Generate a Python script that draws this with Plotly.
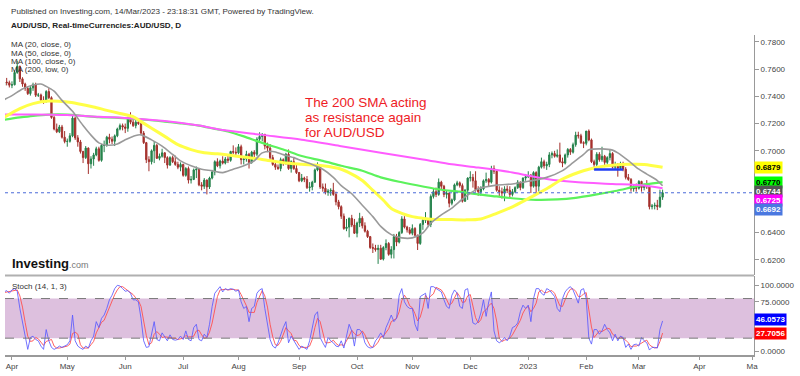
import pandas as pd
import plotly.graph_objects as go

FONT = "Liberation Sans, Arial, sans-serif"

# ---------------- data ----------------
dates = pd.bdate_range("2022-03-29", "2023-03-14")

opens = [
    0.7480, 0.7505, 0.7500,
    0.7482, 0.7485, 0.7575, 0.7620, 0.7528, 0.7490, 0.7458, 0.7420, 0.7462, 0.7485, 0.7408, 0.7410, 0.7372, 0.7360, 0.7435, 0.7390, 0.7245, 0.7160, 0.7140, 0.7175, 0.7100,
    0.7068, 0.7070, 0.7110, 0.7240, 0.7095, 0.7065, 0.6995, 0.6950, 0.7020, 0.6905, 0.6940, 0.6970, 0.7015, 0.6930, 0.7040, 0.7040, 0.7100, 0.7085, 0.7070, 0.7110, 0.7160, 0.7185,
    0.7175, 0.7165, 0.7240, 0.7210, 0.7185, 0.7210, 0.7200, 0.7130, 0.7060, 0.6935, 0.6920, 0.7000, 0.7040, 0.6945, 0.6960, 0.6985, 0.6950, 0.6895, 0.6950, 0.6920, 0.6900, 0.6880,
    0.6900, 0.6820, 0.6870, 0.6785, 0.6790, 0.6860, 0.6865, 0.6750, 0.6740, 0.6785, 0.6735, 0.6800, 0.6845, 0.6920, 0.6890, 0.6925, 0.6910, 0.6940, 0.6930, 0.6995, 0.6990,
    0.6985, 0.7030, 0.6935, 0.6940, 0.6975, 0.6915, 0.6990, 0.6975, 0.7085, 0.7105, 0.7120, 0.7035, 0.7020, 0.6950, 0.6900, 0.6880, 0.6870, 0.6935, 0.6905, 0.6975, 0.6870, 0.6920, 0.6870,
    0.6840, 0.6780, 0.6800, 0.6790, 0.6730, 0.6735, 0.6770, 0.6860, 0.6890, 0.6735, 0.6725, 0.6695, 0.6705, 0.6710, 0.6680, 0.6625, 0.6590, 0.6520, 0.6430, 0.6440, 0.6505, 0.6455,
    0.6395, 0.6470, 0.6505, 0.6450, 0.6410, 0.6370, 0.6290, 0.6285, 0.6275, 0.6285, 0.6205, 0.6290, 0.6320, 0.6240, 0.6275, 0.6370, 0.6330, 0.6400, 0.6500, 0.6440, 0.6420,
    0.6395, 0.6430, 0.6380, 0.6320, 0.6460, 0.6490, 0.6490, 0.6460, 0.6665, 0.6700, 0.6680, 0.6770, 0.6740, 0.6680, 0.6690, 0.6615, 0.6640, 0.6750, 0.6765, 0.6745, 0.6630, 0.6710,
    0.6800, 0.6805, 0.6780, 0.6715, 0.6700, 0.6720, 0.6780, 0.6790, 0.6770, 0.6870, 0.6850, 0.6710, 0.6700, 0.6690, 0.6720, 0.6710, 0.6680, 0.6700, 0.6730, 0.6770, 0.6730, 0.6800,
    0.6810, 0.6820, 0.6740, 0.6840, 0.6740, 0.6880, 0.6920, 0.6890, 0.6900, 0.6970, 0.6980, 0.6960, 0.6970, 0.6920, 0.6910, 0.6970, 0.7010, 0.6990, 0.7045, 0.7115, 0.7110, 0.7060,
    0.7055, 0.7145, 0.7080, 0.6920, 0.6900, 0.6975, 0.6935, 0.6960, 0.6915, 0.6950, 0.6980, 0.6880, 0.6885, 0.6875, 0.6905, 0.6865, 0.6805, 0.6790, 0.6720, 0.6730,
    0.6725, 0.6775, 0.6730, 0.6750, 0.6735, 0.6590, 0.6595, 0.6600, 0.6590, 0.6660,
]
highs = [
    0.7540, 0.7535, 0.7515,
    0.7510, 0.7590, 0.7661, 0.7625, 0.7540, 0.7500, 0.7470, 0.7475, 0.7500, 0.7500, 0.7425, 0.7420, 0.7400, 0.7445, 0.7460, 0.7400, 0.7255, 0.7200, 0.7190, 0.7190, 0.7145,
    0.7090, 0.7130, 0.7266, 0.7250, 0.7115, 0.7080, 0.7000, 0.7035, 0.7025, 0.6960, 0.6985, 0.7030, 0.7030, 0.7050, 0.7075, 0.7110, 0.7125, 0.7105, 0.7120, 0.7170, 0.7200, 0.7200,
    0.7200, 0.7250, 0.7283, 0.7250, 0.7225, 0.7240, 0.7220, 0.7145, 0.7065, 0.6960, 0.7010, 0.7070, 0.7050, 0.6980, 0.7015, 0.6990, 0.6960, 0.6960, 0.6965, 0.6965, 0.6920, 0.6915,
    0.6905, 0.6880, 0.6885, 0.6815, 0.6870, 0.6885, 0.6870, 0.6770, 0.6800, 0.6790, 0.6810, 0.6860, 0.6930, 0.6945, 0.6935, 0.6960, 0.6955, 0.6975, 0.7000, 0.7040, 0.7025,
    0.7050, 0.7045, 0.6960, 0.7000, 0.6985, 0.7000, 0.7005, 0.7100, 0.7136, 0.7130, 0.7125, 0.7060, 0.7050, 0.6970, 0.6915, 0.6900, 0.6950, 0.6945, 0.6985, 0.7010, 0.6930, 0.6955, 0.6900,
    0.6845, 0.6830, 0.6810, 0.6815, 0.6770, 0.6780, 0.6870, 0.6915, 0.6900, 0.6760, 0.6760, 0.6720, 0.6725, 0.6765, 0.6700, 0.6640, 0.6600, 0.6540, 0.6500, 0.6510, 0.6530, 0.6500,
    0.6480, 0.6545, 0.6520, 0.6475, 0.6420, 0.6375, 0.6320, 0.6310, 0.6310, 0.6310, 0.6300, 0.6350, 0.6330, 0.6300, 0.6390, 0.6390, 0.6410, 0.6520, 0.6520, 0.6450, 0.6440,
    0.6460, 0.6440, 0.6385, 0.6470, 0.6500, 0.6550, 0.6500, 0.6680, 0.6720, 0.6730, 0.6797, 0.6780, 0.6750, 0.6710, 0.6695, 0.6650, 0.6760, 0.6780, 0.6775, 0.6760, 0.6720, 0.6805,
    0.6850, 0.6830, 0.6850, 0.6740, 0.6740, 0.6790, 0.6840, 0.6800, 0.6890, 0.6893, 0.6855, 0.6740, 0.6730, 0.6740, 0.6745, 0.6740, 0.6720, 0.6740, 0.6785, 0.6775, 0.6805, 0.6830,
    0.6850, 0.6830, 0.6850, 0.6850, 0.6890, 0.6950, 0.6935, 0.6920, 0.6990, 0.6995, 0.7000, 0.7010, 0.7060, 0.6950, 0.6980, 0.7020, 0.7020, 0.7060, 0.7140, 0.7140, 0.7125, 0.7070,
    0.7145, 0.7157, 0.7090, 0.6935, 0.6990, 0.6990, 0.7030, 0.6970, 0.6960, 0.7010, 0.6990, 0.6920, 0.6910, 0.6920, 0.6920, 0.6880, 0.6830, 0.6800, 0.6750, 0.6760,
    0.6785, 0.6780, 0.6760, 0.6785, 0.6745, 0.6610, 0.6620, 0.6640, 0.6715, 0.6715,
]
lows = [
    0.7470, 0.7480, 0.7465,
    0.7460, 0.7480, 0.7565, 0.7505, 0.7470, 0.7440, 0.7410, 0.7405, 0.7440, 0.7395, 0.7395, 0.7360, 0.7345, 0.7355, 0.7380, 0.7235, 0.7150, 0.7130, 0.7130, 0.7090, 0.7055,
    0.7030, 0.7060, 0.7100, 0.7080, 0.7030, 0.6980, 0.6910, 0.6940, 0.6830, 0.6870, 0.6890, 0.6960, 0.6920, 0.6920, 0.6990, 0.7030, 0.7055, 0.7050, 0.7035, 0.7100, 0.7150, 0.7150,
    0.7130, 0.7140, 0.7195, 0.7175, 0.7165, 0.7190, 0.7120, 0.7050, 0.6910, 0.6850, 0.6900, 0.6910, 0.6940, 0.6930, 0.6950, 0.6910, 0.6870, 0.6890, 0.6910, 0.6890, 0.6865, 0.6850,
    0.6810, 0.6810, 0.6760, 0.6760, 0.6785, 0.6800, 0.6740, 0.6710, 0.6720, 0.6680, 0.6720, 0.6790, 0.6820, 0.6880, 0.6870, 0.6900, 0.6900, 0.6910, 0.6920, 0.6975, 0.6965,
    0.6975, 0.6900, 0.6900, 0.6920, 0.6870, 0.6905, 0.6950, 0.6960, 0.7060, 0.7070, 0.7010, 0.6990, 0.6930, 0.6890, 0.6860, 0.6860, 0.6850, 0.6890, 0.6900, 0.6860, 0.6840, 0.6860, 0.6830,
    0.6770, 0.6770, 0.6770, 0.6720, 0.6700, 0.6710, 0.6765, 0.6850, 0.6720, 0.6700, 0.6680, 0.6670, 0.6670, 0.6670, 0.6600, 0.6570, 0.6500, 0.6420, 0.6410, 0.6365, 0.6440, 0.6390,
    0.6365, 0.6440, 0.6430, 0.6400, 0.6360, 0.6280, 0.6250, 0.6260, 0.6170, 0.6200, 0.6195, 0.6270, 0.6230, 0.6210, 0.6210, 0.6300, 0.6320, 0.6390, 0.6430, 0.6400, 0.6385,
    0.6380, 0.6370, 0.6272, 0.6310, 0.6420, 0.6470, 0.6440, 0.6440, 0.6650, 0.6660, 0.6670, 0.6720, 0.6660, 0.6650, 0.6585, 0.6600, 0.6630, 0.6740, 0.6730, 0.6620, 0.6625, 0.6640,
    0.6775, 0.6730, 0.6700, 0.6670, 0.6670, 0.6710, 0.6765, 0.6740, 0.6760, 0.6830, 0.6700, 0.6660, 0.6650, 0.6630, 0.6690, 0.6650, 0.6665, 0.6690, 0.6720, 0.6710, 0.6720, 0.6780,
    0.6800, 0.6690, 0.6730, 0.6690, 0.6700, 0.6870, 0.6870, 0.6860, 0.6880, 0.6945, 0.6950, 0.6950, 0.6910, 0.6880, 0.6900, 0.6950, 0.6970, 0.6980, 0.7030, 0.7090, 0.7050, 0.7020,
    0.7040, 0.7070, 0.6910, 0.6860, 0.6880, 0.6920, 0.6920, 0.6880, 0.6900, 0.6930, 0.6870, 0.6860, 0.6810, 0.6860, 0.6850, 0.6790, 0.6780, 0.6700, 0.6700, 0.6700,
    0.6715, 0.6700, 0.6710, 0.6720, 0.6570, 0.6570, 0.6570, 0.6565, 0.6580, 0.6640,
]
closes = [
    0.7505, 0.7500, 0.7482,
    0.7485, 0.7575, 0.7620, 0.7528, 0.7490, 0.7458, 0.7420, 0.7462, 0.7485, 0.7408, 0.7410, 0.7372, 0.7360, 0.7435, 0.7390, 0.7245, 0.7160, 0.7140, 0.7175, 0.7100, 0.7068,
    0.7070, 0.7110, 0.7240, 0.7095, 0.7065, 0.6995, 0.6950, 0.7020, 0.6905, 0.6940, 0.6970, 0.7015, 0.6930, 0.7040, 0.7040, 0.7100, 0.7085, 0.7070, 0.7110, 0.7160, 0.7185, 0.7175,
    0.7165, 0.7240, 0.7210, 0.7185, 0.7210, 0.7200, 0.7130, 0.7060, 0.6935, 0.6920, 0.7000, 0.7040, 0.6945, 0.6960, 0.6985, 0.6950, 0.6895, 0.6950, 0.6920, 0.6900, 0.6880, 0.6900,
    0.6820, 0.6870, 0.6785, 0.6790, 0.6860, 0.6865, 0.6750, 0.6740, 0.6785, 0.6735, 0.6800, 0.6845, 0.6920, 0.6890, 0.6925, 0.6910, 0.6940, 0.6930, 0.6995, 0.6990, 0.6985,
    0.7030, 0.6935, 0.6940, 0.6975, 0.6915, 0.6990, 0.6975, 0.7085, 0.7105, 0.7120, 0.7035, 0.7020, 0.6950, 0.6900, 0.6880, 0.6870, 0.6935, 0.6905, 0.6975, 0.6870, 0.6920, 0.6870, 0.6840,
    0.6780, 0.6800, 0.6790, 0.6730, 0.6735, 0.6770, 0.6860, 0.6890, 0.6735, 0.6725, 0.6695, 0.6705, 0.6710, 0.6680, 0.6625, 0.6590, 0.6520, 0.6430, 0.6440, 0.6505, 0.6455, 0.6395,
    0.6470, 0.6505, 0.6450, 0.6410, 0.6370, 0.6290, 0.6285, 0.6275, 0.6285, 0.6205, 0.6290, 0.6320, 0.6240, 0.6275, 0.6370, 0.6330, 0.6400, 0.6500, 0.6440, 0.6420, 0.6395,
    0.6430, 0.6380, 0.6320, 0.6460, 0.6490, 0.6490, 0.6460, 0.6665, 0.6700, 0.6680, 0.6770, 0.6740, 0.6680, 0.6690, 0.6615, 0.6640, 0.6750, 0.6765, 0.6745, 0.6630, 0.6710, 0.6800,
    0.6805, 0.6780, 0.6715, 0.6700, 0.6720, 0.6780, 0.6790, 0.6770, 0.6870, 0.6850, 0.6710, 0.6700, 0.6690, 0.6720, 0.6710, 0.6680, 0.6700, 0.6730, 0.6770, 0.6730, 0.6800, 0.6810,
    0.6820, 0.6740, 0.6840, 0.6740, 0.6880, 0.6920, 0.6890, 0.6900, 0.6970, 0.6980, 0.6960, 0.6970, 0.6920, 0.6910, 0.6970, 0.7010, 0.6990, 0.7045, 0.7115, 0.7110, 0.7060, 0.7055,
    0.7145, 0.7080, 0.6920, 0.6900, 0.6975, 0.6935, 0.6960, 0.6915, 0.6950, 0.6980, 0.6880, 0.6885, 0.6875, 0.6905, 0.6865, 0.6805, 0.6790, 0.6720, 0.6730, 0.6725,
    0.6775, 0.6730, 0.6750, 0.6735, 0.6590, 0.6595, 0.6600, 0.6590, 0.6660, 0.6692,
]

# moving averages read at sample dates
ma20_dates = ["2022-03-29", "2022-04-01", "2022-04-07", "2022-04-13", "2022-04-18", "2022-04-20", "2022-04-25", "2022-04-28",
              "2022-05-04", "2022-05-10", "2022-05-13", "2022-05-18", "2022-05-23", "2022-05-27", "2022-06-01", "2022-06-07",
              "2022-06-09", "2022-06-15", "2022-06-21", "2022-06-27", "2022-06-30", "2022-07-06", "2022-07-12", "2022-07-18",
              "2022-07-22", "2022-07-28", "2022-08-03", "2022-08-09", "2022-08-12", "2022-08-18", "2022-08-24", "2022-08-30",
              "2022-09-02", "2022-09-08", "2022-09-14", "2022-09-20", "2022-09-23", "2022-09-29", "2022-10-05", "2022-10-11",
              "2022-10-14", "2022-10-20", "2022-10-26", "2022-11-01", "2022-11-07", "2022-11-10", "2022-11-16", "2022-11-22",
              "2022-11-29", "2022-12-06", "2022-12-15", "2022-12-23", "2023-01-02", "2023-01-11", "2023-01-19", "2023-01-25",
              "2023-01-31", "2023-02-02", "2023-02-09", "2023-02-15", "2023-02-17", "2023-02-23", "2023-03-01", "2023-03-06",
              "2023-03-10", "2023-03-14"]
ma20_vals = [0.7375, 0.7405, 0.7454, 0.7483, 0.7490, 0.7473, 0.7438, 0.7370,
             0.7290, 0.7185, 0.7115, 0.7058, 0.7041, 0.7050, 0.7081, 0.7113,
             0.7117, 0.7080, 0.7034, 0.6973, 0.6926, 0.6890, 0.6865, 0.6854,
             0.6840, 0.6865, 0.6890, 0.6927, 0.6985, 0.6995, 0.6972, 0.6950,
             0.6927, 0.6900, 0.6865, 0.6805, 0.6745, 0.6685, 0.6601, 0.6517,
             0.6445, 0.6385, 0.6361, 0.6361, 0.6397, 0.6469, 0.6530, 0.6580,
             0.6661, 0.6721, 0.6748, 0.6757, 0.6776, 0.6805, 0.6855, 0.6913,
             0.6973, 0.7007, 0.7014, 0.7005, 0.6985, 0.6928, 0.6865, 0.6829,
             0.6782, 0.6744]

ma50_dates = ["2022-03-29", "2022-04-06", "2022-04-13", "2022-04-21", "2022-05-02", "2022-05-06", "2022-05-16", "2022-05-23",
              "2022-05-30", "2022-06-06", "2022-06-09", "2022-06-15", "2022-06-22", "2022-06-29", "2022-07-06", "2022-07-13",
              "2022-07-20", "2022-08-03", "2022-08-12", "2022-08-24", "2022-09-02", "2022-09-14", "2022-09-23", "2022-09-29",
              "2022-10-05", "2022-10-11", "2022-10-17", "2022-10-20", "2022-10-26", "2022-11-01", "2022-11-07", "2022-11-10",
              "2022-11-22", "2022-11-29", "2022-12-07", "2022-12-15", "2022-12-23", "2023-01-02", "2023-01-11", "2023-01-19",
              "2023-01-27", "2023-02-02", "2023-02-08", "2023-02-15", "2023-02-23", "2023-03-03", "2023-03-14"]
ma50_vals = [0.7245, 0.7310, 0.7346, 0.7365, 0.7358, 0.7346, 0.7322, 0.7297,
             0.7274, 0.7250, 0.7214, 0.7166, 0.7106, 0.7045, 0.7009, 0.6985,
             0.6978, 0.6954, 0.6937, 0.6913, 0.6901, 0.6890, 0.6865, 0.6829,
             0.6782, 0.6710, 0.6637, 0.6577, 0.6541, 0.6517, 0.6505, 0.6498,
             0.6495, 0.6493, 0.6500, 0.6541, 0.6589, 0.6649, 0.6721, 0.6793,
             0.6841, 0.6865, 0.6882, 0.6894, 0.6901, 0.6900, 0.6879]

ma100_dates = ["2022-03-29", "2022-04-06", "2022-04-13", "2022-04-21", "2022-05-02", "2022-05-10", "2022-05-18", "2022-05-26",
               "2022-06-06", "2022-06-14", "2022-06-22", "2022-06-30", "2022-07-11", "2022-07-19", "2022-07-26", "2022-08-03",
               "2022-08-12", "2022-08-24", "2022-09-02", "2022-09-14", "2022-09-23", "2022-10-05", "2022-10-14", "2022-10-26",
               "2022-11-07", "2022-11-16", "2022-11-25", "2022-12-06", "2022-12-15", "2022-12-26", "2023-01-05", "2023-01-17",
               "2023-01-26", "2023-02-07", "2023-02-16", "2023-02-27", "2023-03-06", "2023-03-14"]
ma100_vals = [0.7228, 0.7245, 0.7257, 0.7266, 0.7266, 0.7257, 0.7247, 0.7243,
              0.7235, 0.7226, 0.7214, 0.7202, 0.7185, 0.7161, 0.7142, 0.7106,
              0.7058, 0.7010, 0.6962, 0.6926, 0.6890, 0.6854, 0.6805, 0.6769,
              0.6738, 0.6714, 0.6700, 0.6680, 0.6665, 0.6650, 0.6640, 0.6643,
              0.6655, 0.6680, 0.6705, 0.6735, 0.6755, 0.6770]

ma200_dates = ["2022-03-29", "2022-04-13", "2022-05-02", "2022-05-18", "2022-06-06", "2022-06-22", "2022-07-11", "2022-07-22",
               "2022-08-12", "2022-09-02", "2022-09-23", "2022-10-14", "2022-11-07", "2022-11-22", "2022-12-06", "2022-12-23",
               "2023-01-11", "2023-01-27", "2023-02-15", "2023-03-03", "2023-03-14"]
ma200_vals = [0.7266, 0.7266, 0.7262, 0.7250, 0.7238, 0.7218, 0.7185, 0.7153,
              0.7117, 0.7081, 0.7034, 0.6985, 0.6937, 0.6901, 0.6877, 0.6841,
              0.6793, 0.6769, 0.6757, 0.6745, 0.6725]

support_dates = ["2023-02-06", "2023-02-21"]
support_vals = [0.6862, 0.6862]

stoch_k = [90, 92, 88,
           93, 95, 91, 65, 45, 21, 3, 21, 23, 18, 16, 8, 3, 33, 16, 6, 3, 5, 8, 6, 8,
           10, 16, 55, 16, 8, 5, 3, 8, 5, 16, 23, 45, 36, 50, 55, 65, 78, 85, 95, 100, 99, 95,
           91, 92, 88, 78, 78, 75, 50, 16, 6, 7, 26, 45, 18, 16, 28, 21, 16, 25, 18, 17, 18, 23,
           18, 31, 18, 16, 36, 41, 18, 16, 26, 21, 41, 68, 88, 93, 98, 90, 95, 93, 95, 94, 91,
           93, 75, 65, 68, 45, 65, 68, 88, 93, 95, 65, 41, 18, 8, 5, 13, 26, 36, 45, 13, 23, 16, 8,
           3, 8, 6, 3, 16, 36, 55, 60, 21, 13, 6, 21, 16, 13, 8, 7, 16, 5, 23, 41, 31, 8,
           33, 33, 28, 13, 7, 5, 6, 16, 21, 28, 21, 36, 45, 55, 45, 50, 85, 95, 75, 68, 65,
           65, 41, 31, 83, 85, 88, 65, 98, 98, 95, 93, 90, 78, 68, 65, 85, 93, 88, 68, 65, 93, 95,
           70, 43, 41, 45, 58, 78, 53, 75, 90, 31, 16, 13, 16, 21, 16, 23, 36, 38, 43, 60, 70, 65,
           70, 45, 80, 95, 95, 88, 85, 95, 93, 88, 83, 65, 60, 80, 90, 95, 98, 93, 83, 73, 93, 95,
           80, 20, 11, 33, 33, 26, 31, 41, 33, 28, 16, 26, 16, 23, 21, 6, 11, 3, 10, 11,
           8, 21, 16, 13, 2, 6, 6, 5, 33, 46.0573]
stoch_d = [89, 90, 90,
           91, 92, 93, 84, 67, 44, 23, 15, 16, 21, 19, 14, 9, 15, 17, 18, 8, 5, 5, 6, 7,
           8, 11, 27, 29, 26, 10, 5, 5, 5, 10, 15, 28, 35, 44, 47, 57, 66, 76, 86, 93, 98, 98,
           95, 93, 90, 86, 81, 77, 68, 47, 24, 10, 13, 26, 30, 26, 21, 22, 22, 21, 20, 20, 18, 19,
           20, 24, 22, 22, 23, 31, 32, 25, 20, 21, 29, 43, 66, 83, 93, 94, 94, 93, 94, 94, 93,
           93, 86, 78, 69, 59, 59, 59, 74, 83, 92, 84, 67, 41, 22, 10, 9, 15, 25, 36, 31, 27, 17, 16,
           9, 6, 6, 6, 8, 18, 36, 50, 45, 31, 13, 13, 14, 17, 12, 9, 10, 9, 15, 23, 32, 27,
           24, 25, 31, 25, 16, 8, 6, 9, 14, 22, 23, 28, 34, 45, 48, 50, 60, 77, 85, 79, 69,
           66, 57, 46, 52, 66, 85, 79, 84, 87, 97, 95, 93, 87, 79, 70, 73, 81, 89, 83, 74, 75, 84,
           86, 69, 51, 43, 48, 60, 63, 69, 73, 65, 46, 20, 15, 17, 18, 20, 25, 32, 39, 47, 58, 65,
           68, 60, 65, 73, 90, 93, 89, 89, 91, 92, 88, 79, 69, 68, 77, 88, 94, 95, 91, 83, 83, 87,
           89, 65, 37, 21, 26, 31, 30, 33, 35, 34, 26, 23, 19, 22, 20, 17, 13, 7, 8, 8,
           10, 13, 15, 17, 10, 7, 5, 6, 15, 27.7056]

price_ticks = [0.62, 0.64, 0.66, 0.68, 0.70, 0.72, 0.74, 0.76, 0.78]
price_tick_labels = ["0.6200", "0.6400", "", "", "0.7000", "0.7200", "0.7400", "0.7600", "0.7800"]
stoch_ticks = [0, 25, 50, 75, 100]
stoch_tick_labels = ["0.0000", "", "", "75.0000", "100.0000"]
month_ticks = ["2022-04-01", "2022-05-02", "2022-06-01", "2022-07-01", "2022-08-01", "2022-09-01", "2022-10-03",
               "2022-11-01", "2022-12-01", "2023-01-02", "2023-02-01", "2023-03-01", "2023-04-03", "2023-05-01"]
month_labels = ["Apr", "May", "Jun", "Jul", "Aug", "Sep", "Oct", "Nov", "Dec", "2023", "Feb", "Mar", "Apr", "Ma"]

# ---------------- geometry helpers (pixel -> paper) ----------------
L, R, T, B = 5, 760, 35, 361
def ax(px):
    return (px - L) / (R - L)
def ay(py):
    return (B - py) / (B - T)

fig = go.Figure()

ma_styles = [
    (ma100_dates, ma100_vals, "#5cf25c", 2.2),
    (ma200_dates, ma200_vals, "#ff5cff", 2.0),
    (ma50_dates, ma50_vals, "#ffff47", 3.0),
    (ma20_dates, ma20_vals, "#9a9a9a", 1.6),
]
for d, v, c, w in ma_styles:
    fig.add_trace(go.Scatter(x=d, y=v, mode="lines", line=dict(color=c, width=w, shape="spline", smoothing=0.8),
                             hoverinfo="skip", showlegend=False, xaxis="x", yaxis="y"))

fig.add_trace(go.Candlestick(
    x=dates, open=opens, high=highs, low=lows, close=closes,
    increasing=dict(line=dict(color="#23804a", width=1), fillcolor="#2a8c50"),
    decreasing=dict(line=dict(color="#a3302c", width=1), fillcolor="#ad332e"),
    whiskerwidth=0, hoverinfo="skip", showlegend=False, xaxis="x", yaxis="y"))

fig.add_trace(go.Scatter(x=support_dates, y=support_vals, mode="lines", line=dict(color="#1f3df5", width=2.5),
                         hoverinfo="skip", showlegend=False, xaxis="x", yaxis="y"))

fig.add_trace(go.Scatter(x=dates, y=stoch_d, mode="lines", line=dict(color="rgba(255,80,80,0.9)", width=1),
                         hoverinfo="skip", showlegend=False, xaxis="x2", yaxis="y2"))
fig.add_trace(go.Scatter(x=dates, y=stoch_k, mode="lines", line=dict(color="rgba(90,90,255,0.85)", width=1),
                         hoverinfo="skip", showlegend=False, xaxis="x2", yaxis="y2"))

xr = ["2022-03-29 08:38", "2023-05-01 16:48"]
rb = [dict(bounds=["sat", "mon"])]
tickfont = dict(family=FONT, size=8, color="#444")

fig.update_layout(
    width=800, height=376,
    margin=dict(l=L, r=800 - R, t=T, b=376 - B),
    paper_bgcolor="white", plot_bgcolor="white",
    font=dict(family=FONT, size=8, color="#333"),
    showlegend=False,
    xaxis=dict(domain=[0, 1], anchor="y", type="date", range=xr, rangebreaks=rb,
               showticklabels=False, showgrid=False, zeroline=False, showline=False,
               rangeslider=dict(visible=False)),
    xaxis2=dict(domain=[0, 1], anchor="y2", type="date", range=xr, rangebreaks=rb, matches="x",
                tickmode="array", tickvals=month_ticks, ticktext=month_labels, tickfont=tickfont,
                showgrid=False, zeroline=False, showline=True, linecolor="#999", linewidth=1.5,
                ticks="outside", ticklen=3, tickcolor="#999"),
    yaxis=dict(domain=[ay(279), 1], anchor="x", side="right", range=[0.60921, 0.78500],
               tickmode="array", tickvals=price_ticks, ticktext=price_tick_labels,
               tickfont=tickfont, showgrid=False, zeroline=False, showline=True, linecolor="#999",
               ticks="outside", ticklen=4, tickcolor="#999"),
    yaxis2=dict(domain=[0, ay(281)], anchor="x2", side="right", range=[-5.5, 113.4],
                tickmode="array", tickvals=stoch_ticks, ticktext=stoch_tick_labels,
                tickfont=tickfont, showgrid=False, zeroline=False, showline=True, linecolor="#999",
                ticks="outside", ticklen=4, tickcolor="#999"),
)

shapes = [
    dict(type="rect", xref="paper", yref="y2", x0=0, x1=1, y0=20, y1=80, fillcolor="#ddc0de",
         line=dict(width=0), layer="below"),
    dict(type="line", xref="paper", yref="y2", x0=0, x1=1, y0=80, y1=80, line=dict(color="#7a7a7a", width=1, dash="dash")),
    dict(type="line", xref="paper", yref="y2", x0=0, x1=1, y0=20, y1=20, line=dict(color="#7a7a7a", width=1, dash="dash")),
    dict(type="line", xref="paper", yref="paper", x0=0, x1=1, y0=ay(280), y1=ay(280), line=dict(color="#b0b0b0", width=2)),
    dict(type="line", xref="paper", yref="y", x0=0, x1=1, y0=closes[-1], y1=closes[-1],
         line=dict(color="#4a6ad8", width=1, dash="dot")),
]
fig.update_layout(shapes=shapes)

ann = []
def text(x, y, s, size=8, color="#333", anchor="left", **kw):
    ann.append(dict(xref="paper", yref="paper", x=ax(x), y=ay(y), text=s, showarrow=False,
                    xanchor=anchor, yanchor="middle", font=dict(family=FONT, size=size, color=color), **kw))

text(9, 11, "Published on Investing.com, 14/Mar/2023 - 23:18:31 GMT, Powered by TradingView.", size=8.1, color="#333")
text(9, 25, "<b>AUD/USD, Real-timeCurrencies:AUD/USD, D</b>", size=8.1, color="#222")
text(9, 45, "MA (20, close, 0)", size=8, color="#333")
text(9, 53.4, "MA (50, close, 0)", size=8, color="#333")
text(9, 61.8, "MA (100, close, 0)", size=8, color="#333")
text(9, 70.2, "MA (200, low, 0)", size=8, color="#333")
text(10, 291, "Stoch (14, 1, 3)", size=8, color="#333")
text(10, 268, "<b>Investing</b><span style='font-size:9px;color:#777'>.com</span>", size=13, color="#111")
text(305, 104, "The 200 SMA acting", size=13.5, color="#ee1c25")
text(305, 119, "as resistance again", size=13.5, color="#ee1c25")
text(305, 134, "for AUD/USD", size=13.5, color="#ee1c25")

boxes = [
    (169.8, "0.6879", "#ffff00", "#000"),
    (184.9, "0.6770", "#00ff00", "#000"),
    (194.3, "0.6744", "#555555", "#fff"),
    (203.6, "0.6725", "#ff00ff", "#fff"),
    (213.0, "0.6692", "#4a78e0", "#fff"),
    (325.2, "46.0573", "#0000ff", "#fff"),
    (339.6, "27.7056", "#ff0000", "#fff"),
]
for y, s, bg, fc in boxes:
    ann.append(dict(xref="paper", yref="paper", x=ax(760.5), y=ay(y), text=f"<b>{s}</b>", showarrow=False,
                    xanchor="left", yanchor="middle", bgcolor=bg, borderpad=1,
                    font=dict(family=FONT, size=8, color=fc)))

fig.update_layout(annotations=ann)
fig.write_html("out.html", config={"displayModeBar": False},
               post_script="document.body.style.margin='0';document.body.style.overflow='hidden';")
